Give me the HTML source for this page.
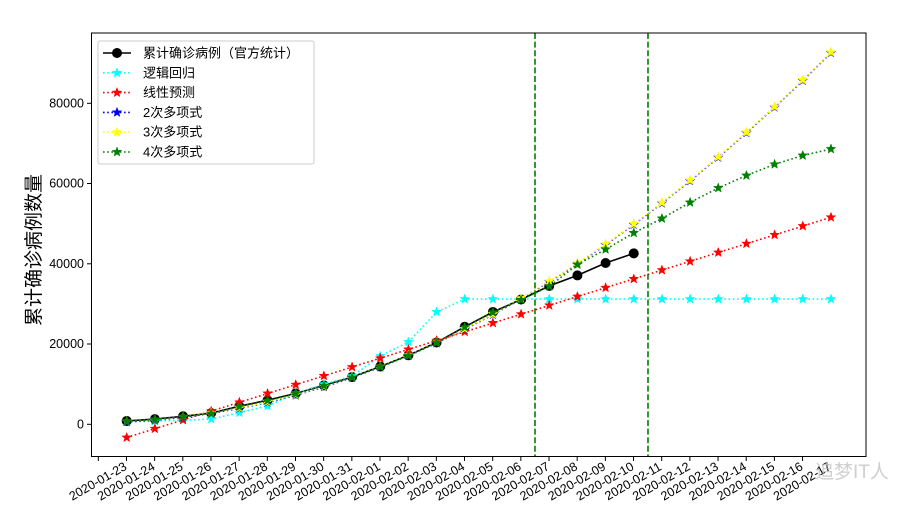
<!DOCTYPE html>
<html><head><meta charset="utf-8"><style>
html,body{margin:0;padding:0;background:#fff;}
svg{display:block;font-family:"Liberation Sans","Noto Sans CJK SC",sans-serif;}
</style></head><body>
<svg id="c" width="916" height="516" viewBox="0 0 916 516" xmlns="http://www.w3.org/2000/svg">
<rect x="0" y="0" width="916" height="516" fill="#fff"/>
<g id="plot"></g>
<rect x="91.5" y="33" width="774.5" height="423.5" fill="none" stroke="#000" stroke-width="1"/>
<g font-size="12.5" fill="#000" text-anchor="end">
<text x="84" y="428.5">0</text>
<text x="84" y="348">20000</text>
<text x="84" y="268">40000</text>
<text x="84" y="187.5">60000</text>
<text x="84" y="107.5">80000</text>
</g>
<g id="yt" stroke="#000" stroke-width="1">
<line x1="87" x2="91.5" y1="424.3" y2="424.3"/><line x1="87" x2="91.5" y1="344" y2="344"/><line x1="87" x2="91.5" y1="263.8" y2="263.8"/><line x1="87" x2="91.5" y1="183.5" y2="183.5"/><line x1="87" x2="91.5" y1="103.3" y2="103.3"/>
</g>
<text transform="translate(40,250) rotate(-90)" font-size="19" text-anchor="middle" fill="#000">累计确诊病例数量</text>
<g id="xt" font-size="12.5" fill="#000"></g>
<text x="815" y="478" font-size="19" fill="#bbb" opacity="0.7">追梦IT人</text>
<g>
<rect x="98" y="41" width="216" height="123" rx="2" fill="#fff" fill-opacity="0.85" stroke="#ccc" stroke-width="1"/>
<g font-size="13" fill="#000">
<text x="143" y="57.5">累计确诊病例（官方统计）</text>
<text x="143" y="77.5">逻辑回归</text>
<text x="143" y="97">线性预测</text>
<text x="143" y="117">2次多项式</text>
<text x="143" y="136.5">3次多项式</text>
<text x="143" y="156.5">4次多项式</text>
</g>
<g id="leg"></g>
</g>
</svg>
<script>
const NS="http://www.w3.org/2000/svg";
const plot=document.getElementById('plot'),leg=document.getElementById('leg'),xt=document.getElementById('xt');
const X=i=>126.7+28.17*i, Y=v=>424.3-v*0.0040125;
function el(p,t,a){const e=document.createElementNS(NS,t);for(const k in a)e.setAttribute(k,a[k]);p.appendChild(e);return e;}
function star(cx,cy,r,col,p){let pts=[];for(let k=0;k<10;k++){const rr=k%2?r*0.42:r;const a=-Math.PI/2+k*Math.PI/5;pts.push((cx+rr*Math.cos(a)).toFixed(1)+','+(cy+rr*Math.sin(a)).toFixed(1));}
el(p,'polygon',{points:pts.join(' '),fill:col,stroke:col,'stroke-width':0.5,'stroke-linejoin':'round'});}
function series(vals,col,dotted,mk,p){const pts=vals.map((v,i)=>[X(i),Y(v)]);
el(p,'polyline',{points:pts.map(q=>q[0].toFixed(1)+','+q[1].toFixed(1)).join(' '),fill:'none',stroke:col,'stroke-width':1.6,'stroke-dasharray':dotted?'1.6,2.6':'none'});
pts.forEach(q=>{if(mk==='o')el(p,'circle',{cx:q[0],cy:q[1],r:5,fill:col});else star(q[0],q[1],5,col,p);});}
const black=[830,1290,2000,2800,4500,6000,7700,9700,11800,14400,17200,20400,24300,28000,31100,34500,37100,40200,42600];
let cyan=[600,800,1000,1300,2900,4600,7700,10000,12000,17000,20500,28000,31200];while(cyan.length<26)cyan.push(31200);
const red=[],blue=[],yel=[];for(let i=0;i<26;i++){red.push(-3300+2196*i);const q=600+296.7*i+135.3*i*i;blue.push(q);yel.push(q+150);}
const green=black.slice(0,16).map((v,i)=>v-100);green.push(39800,43600,47700,51300,55300,58900,62000,64800,67000,68600);
const dates=[];for(let k=0;k<26;k++){const d=new Date(Date.UTC(2020,0,23+k));dates.push(d.toISOString().slice(0,10));}
dates.forEach((s,k)=>{const x=98.3+28.17*k;el(plot,'line',{x1:x,x2:x,y1:456.5,y2:461,stroke:'#000','stroke-width':1});
const t=el(xt,'text',{transform:`translate(${x.toFixed(1)},482) rotate(-30)`,'text-anchor':'middle','dominant-baseline':'middle'});t.textContent=s;});
series(black,'#000',false,'o',plot);
series(cyan,'#00ffff',true,'*',plot);
series(red,'#ff0000',true,'*',plot);
series(blue,'#0000ff',true,'*',plot);
series(yel,'#ffff00',true,'*',plot);
series(green,'#008000',true,'*',plot);
el(plot,'line',{x1:535,x2:535,y1:33,y2:456.5,stroke:'#008000','stroke-width':1.6,'stroke-dasharray':'6,2.6'});
el(plot,'line',{x1:648,x2:648,y1:33,y2:456.5,stroke:'#008000','stroke-width':1.6,'stroke-dasharray':'6,2.6'});
const L=[['#000',false,'o'],['#00ffff',true,'*'],['#ff0000',true,'*'],['#0000ff',true,'*'],['#ffff00',true,'*'],['#008000',true,'*']];
L.forEach((s,k)=>{const y=53+19.8*k;el(leg,'line',{x1:103,x2:131,y1:y,y2:y,stroke:s[0],'stroke-width':1.6,'stroke-dasharray':s[1]?'1.6,2.6':'none'});
if(s[2]==='o')el(leg,'circle',{cx:117,cy:y,r:5,fill:s[0]});else star(117,y,5,s[0],leg);});
</script>
</body></html>
